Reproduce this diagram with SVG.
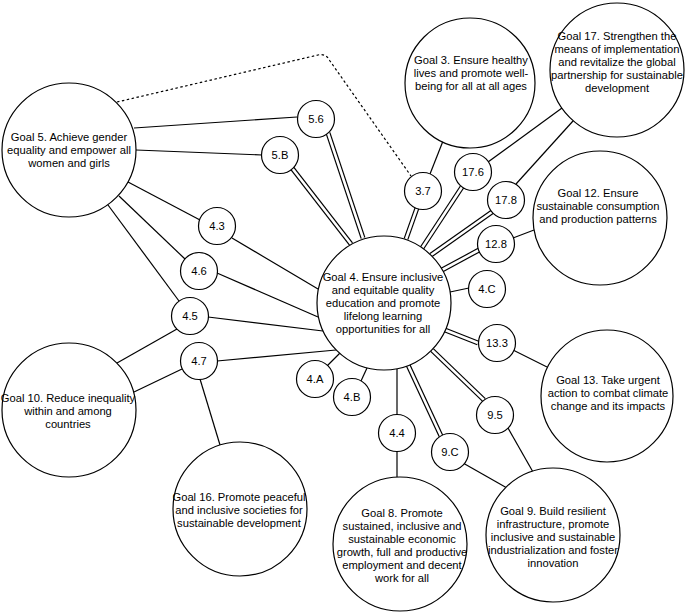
<svg xmlns="http://www.w3.org/2000/svg" width="685" height="613" viewBox="0 0 685 613">
<style>
  .bg { fill: #ffffff; }
  .node circle { fill: #ffffff; stroke: #000000; stroke-width: 1.2; }
  .node text { font-family: "Liberation Sans", Arial, sans-serif; font-size: 11.2px; fill: #000000; text-anchor: middle; dominant-baseline: central; }
  .single { stroke: #000000; stroke-width: 1.2; fill: none; }
  .dbl-out { stroke: #000000; stroke-width: 5; fill: none; }
  .dbl-in { stroke: #ffffff; stroke-width: 2.6; fill: none; }
  .dotted { stroke: #000000; stroke-width: 1.2; fill: none; stroke-dasharray: 2.5 2.5; }
</style>
<rect class="bg" x="0" y="0" width="685" height="613"/>
<g id="connectors">
  <path class="dotted" d="M117,102 L318,55 Q326,53 330,61 L411,176"/>
  <line class="single" x1="134" y1="128" x2="297" y2="117"/>
  <line class="single" x1="136" y1="150" x2="262" y2="155"/>
  <line class="single" x1="128" y1="182" x2="200" y2="220"/>
  <line class="single" x1="232" y1="238" x2="318" y2="289"/>
  <line class="single" x1="119" y1="196" x2="185" y2="259"/>
  <line class="single" x1="217" y1="273" x2="318" y2="317"/>
  <line class="single" x1="108" y1="205" x2="179" y2="301"/>
  <line class="single" x1="208" y1="317" x2="323" y2="331"/>
  <line class="single" x1="177" y1="329" x2="117" y2="363"/>
  <line class="single" x1="217" y1="361" x2="336" y2="350"/>
  <line class="single" x1="182" y1="369" x2="134" y2="392"/>
  <line class="single" x1="200" y1="379" x2="220" y2="445"/>
  <line class="single" x1="340" y1="353" x2="327" y2="366"/>
  <line class="single" x1="367" y1="368" x2="361" y2="381"/>
  <line class="single" x1="397" y1="369" x2="397" y2="415"/>
  <line class="single" x1="397" y1="451" x2="397" y2="477"/>
  <line class="single" x1="463" y1="463" x2="507" y2="488"/>
  <line class="single" x1="508" y1="428" x2="533" y2="472"/>
  <line class="single" x1="513" y1="350" x2="547" y2="367"/>
  <line class="single" x1="450" y1="292" x2="469" y2="288"/>
  <line class="single" x1="513" y1="238" x2="534" y2="230"/>
  <line class="single" x1="516" y1="184" x2="573" y2="121"/>
  <line class="single" x1="488" y1="162" x2="562" y2="108"/>
  <line class="single" x1="430" y1="174" x2="443" y2="141"/>
  <g id="double-links">
    <line class="dbl-out" x1="328" y1="133" x2="363" y2="238"/>
    <line class="dbl-in" x1="328" y1="133" x2="363" y2="238"/>
    <line class="dbl-out" x1="292" y1="168" x2="351" y2="244"/>
    <line class="dbl-in" x1="292" y1="168" x2="351" y2="244"/>
    <line class="dbl-out" x1="408" y1="365" x2="441" y2="436"/>
    <line class="dbl-in" x1="408" y1="365" x2="441" y2="436"/>
    <line class="dbl-out" x1="432" y1="350" x2="484" y2="400"/>
    <line class="dbl-in" x1="432" y1="350" x2="484" y2="400"/>
    <line class="dbl-out" x1="445" y1="330" x2="478" y2="343"/>
    <line class="dbl-in" x1="445" y1="330" x2="478" y2="343"/>
    <line class="dbl-out" x1="442" y1="270" x2="479" y2="250"/>
    <line class="dbl-in" x1="442" y1="270" x2="479" y2="250"/>
    <line class="dbl-out" x1="431" y1="255" x2="492" y2="212"/>
    <line class="dbl-in" x1="431" y1="255" x2="492" y2="212"/>
    <line class="dbl-out" x1="422" y1="248" x2="462" y2="187"/>
    <line class="dbl-in" x1="422" y1="248" x2="462" y2="187"/>
    <line class="dbl-out" x1="406" y1="239" x2="417" y2="208"/>
    <line class="dbl-in" x1="406" y1="239" x2="417" y2="208"/>
  </g>
</g>
<g id="goal5" class="node"><circle cx="69" cy="150" r="67"/>
  <text x="69" y="137">Goal 5. Achieve gender</text><text x="69" y="150">equality and empower all</text><text x="69" y="163">women and girls</text></g>
<g id="goal4" class="node"><circle cx="384" cy="303" r="67"/>
  <text x="383" y="277">Goal 4. Ensure inclusive</text><text x="383" y="290">and equitable quality</text><text x="383" y="303">education and promote</text><text x="383" y="316">lifelong learning</text><text x="383" y="329">opportunities for all</text></g>
<g id="goal3" class="node"><circle cx="470" cy="83" r="65"/>
  <text x="471" y="60">Goal 3. Ensure healthy</text><text x="471" y="73">lives and promote well-</text><text x="471" y="86">being for all at all ages</text></g>
<g id="goal17" class="node"><circle cx="617" cy="70" r="67"/>
  <text x="617" y="36">Goal 17. Strengthen the</text><text x="617" y="49">means of implementation</text><text x="617" y="62">and revitalize the global</text><text x="617" y="75">partnership for sustainable</text><text x="617" y="88">development</text></g>
<g id="goal12" class="node"><circle cx="600" cy="218" r="67"/>
  <text x="598" y="193">Goal 12. Ensure</text><text x="598" y="206">sustainable consumption</text><text x="598" y="219">and production patterns</text></g>
<g id="goal13" class="node"><circle cx="607" cy="396" r="66"/>
  <text x="608" y="380">Goal 13. Take urgent</text><text x="608" y="393">action to combat climate</text><text x="608" y="406">change and its impacts</text></g>
<g id="goal9" class="node"><circle cx="553" cy="535" r="67"/>
  <text x="553" y="511">Goal 9. Build resilient</text><text x="553" y="524">infrastructure, promote</text><text x="553" y="537">inclusive and sustainable</text><text x="553" y="550">industrialization and foster</text><text x="553" y="563">innovation</text></g>
<g id="goal8" class="node"><circle cx="400" cy="544" r="67"/>
  <text x="402" y="513">Goal 8. Promote</text><text x="402" y="526">sustained, inclusive and</text><text x="402" y="539">sustainable economic</text><text x="402" y="552">growth, full and productive</text><text x="402" y="565">employment and decent</text><text x="402" y="578">work for all</text></g>
<g id="goal16" class="node"><circle cx="240" cy="509" r="67"/>
  <text x="239" y="497">Goal 16. Promote peaceful</text><text x="239" y="510">and inclusive societies for</text><text x="239" y="523">sustainable development</text></g>
<g id="goal10" class="node"><circle cx="69" cy="410" r="67"/>
  <text x="68" y="398">Goal 10. Reduce inequality</text><text x="68" y="411">within and among</text><text x="68" y="424">countries</text></g>
<g id="t5-6" class="node"><circle cx="316" cy="119" r="18.5"/><text x="316" y="119">5.6</text></g>
<g id="t5-B" class="node"><circle cx="280" cy="155" r="18.5"/><text x="280" y="155">5.B</text></g>
<g id="t4-3" class="node"><circle cx="217" cy="226" r="18.5"/><text x="217" y="226">4.3</text></g>
<g id="t4-6" class="node"><circle cx="199" cy="271" r="18.5"/><text x="199" y="271">4.6</text></g>
<g id="t4-5" class="node"><circle cx="190" cy="316" r="18.5"/><text x="190" y="316">4.5</text></g>
<g id="t4-7" class="node"><circle cx="199" cy="361" r="18.5"/><text x="199" y="361">4.7</text></g>
<g id="t4-A" class="node"><circle cx="315" cy="379" r="18.5"/><text x="315" y="379">4.A</text></g>
<g id="t4-B" class="node"><circle cx="352" cy="397" r="18.5"/><text x="352" y="397">4.B</text></g>
<g id="t4-4" class="node"><circle cx="397" cy="433" r="18.5"/><text x="397" y="433">4.4</text></g>
<g id="t9-C" class="node"><circle cx="450" cy="452" r="18.5"/><text x="450" y="452">9.C</text></g>
<g id="t9-5" class="node"><circle cx="495" cy="415" r="18.5"/><text x="495" y="415">9.5</text></g>
<g id="t13-3" class="node"><circle cx="497" cy="343" r="18.5"/><text x="497" y="343">13.3</text></g>
<g id="t4-C" class="node"><circle cx="487" cy="289" r="18.5"/><text x="487" y="289">4.C</text></g>
<g id="t12-8" class="node"><circle cx="496" cy="244" r="18.5"/><text x="496" y="244">12.8</text></g>
<g id="t17-8" class="node"><circle cx="506" cy="200" r="18.5"/><text x="506" y="200">17.8</text></g>
<g id="t17-6" class="node"><circle cx="473" cy="172" r="18.5"/><text x="473" y="172">17.6</text></g>
<g id="t3-7" class="node"><circle cx="423" cy="191" r="18.5"/><text x="423" y="191">3.7</text></g>
</svg>
